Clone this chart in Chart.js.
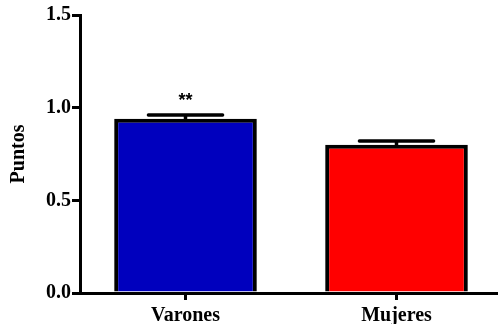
<!DOCTYPE html>
<html>
<head>
<meta charset="utf-8">
<script src="https://cdn.jsdelivr.net/npm/chart.js@4.4.0/dist/chart.umd.min.js"></script>
<style>
  html, body { margin: 0; padding: 0; background: #fff; overflow: hidden; }
  #wrap { width: 498px; height: 324px; overflow: hidden; }
  canvas { display: block; }
</style>
</head>
<body>
<div id="wrap"><canvas id="c" width="502" height="324" style="width:502px;height:324px"></canvas></div>
<script>
// Mean score per group, its standard error, and the significance marks
const categories = ['Varones', 'Mujeres'];
const means = [0.94, 0.80];
const sem = [0.02, 0.02];
const significance = ['**', ''];
const barColors = ['#0000BE', '#FF0000'];
const yTicks = [0, 0.5, 1.0, 1.5];

const serif = '"Liberation Serif", "Times New Roman", serif';

// Upper error whiskers and significance stars, placed through the chart's scales
const errorBars = {
  id: 'errorBars',
  afterDatasetsDraw(chart) {
    const { ctx, scales: { x, y } } = chart;
    const meta = chart.getDatasetMeta(0);
    ctx.save();
    ctx.strokeStyle = '#000';
    ctx.lineWidth = 3.5;
    ctx.lineCap = 'round';
    meta.data.forEach((bar, i) => {
      const cx = x.getPixelForValue(i);
      const yTop = y.getPixelForValue(means[i] + sem[i]);
      const yBar = y.getPixelForValue(means[i]);
      const half = bar.width * 0.26;
      ctx.beginPath();
      ctx.moveTo(cx, yBar);
      ctx.lineTo(cx, yTop);
      ctx.moveTo(cx - half, yTop);
      ctx.lineTo(cx + half, yTop);
      ctx.stroke();
      if (significance[i]) {
        ctx.fillStyle = '#000';
        ctx.font = 'bold 18px "Liberation Sans", Arial, sans-serif';
        ctx.textAlign = 'center';
        ctx.textBaseline = 'alphabetic';
        ctx.fillText(significance[i], cx, yTop - 9);
      }
    });
    ctx.restore();
  }
};

new Chart(document.getElementById('c'), {
  type: 'bar',
  data: {
    labels: categories,
    datasets: [{
      data: means,
      backgroundColor: barColors,
      borderColor: '#000',
      borderWidth: 4,
      borderSkipped: 'bottom',
      barPercentage: 0.676,
      categoryPercentage: 1.0
    }]
  },
  options: {
    responsive: false,
    animation: false,
    devicePixelRatio: 1,
    layout: { padding: { top: 15, right: 0, bottom: 0, left: 0 } },
    plugins: { legend: { display: false }, tooltip: { enabled: false } },
    scales: {
      x: {
        offset: true,
        grid: { offset: false, drawOnChartArea: false, drawTicks: true, tickLength: 7, color: '#000', lineWidth: 3 },
        border: { display: true, color: '#000', width: 3 },
        ticks: { color: '#000', padding: 4, font: { family: serif, size: 20, weight: 'bold' } },
        afterFit(scale) { scale.height = 31; }
      },
      y: {
        min: 0,
        max: 1.5,
        afterBuildTicks(scale) { scale.ticks = yTicks.map(v => ({ value: v })); },
        grid: { drawOnChartArea: false, drawTicks: true, tickLength: 8, color: '#000', lineWidth: 3 },
        border: { display: true, color: '#000', width: 3 },
        ticks: {
          color: '#000', padding: 1,
          font: { family: serif, size: 20, weight: 'bold' },
          callback: v => Number(v).toFixed(1)
        },
        title: {
          display: true, text: 'Puntos', color: '#000',
          font: { family: serif, size: 20, weight: 'bold' },
          padding: { top: 7, bottom: 0 }
        },
        afterFit(scale) { scale.width = 80; }
      }
    }
  },
  plugins: [errorBars]
});
</script>
</body>
</html>
